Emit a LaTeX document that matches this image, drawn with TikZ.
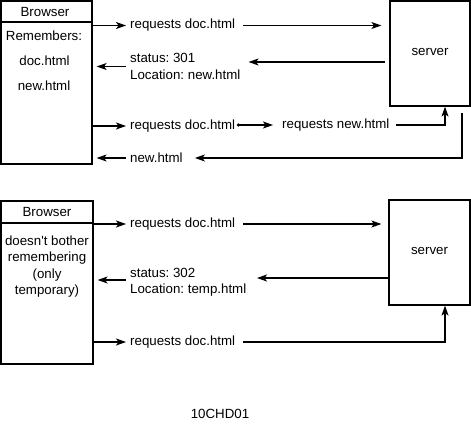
\documentclass[tikz,border=0pt]{standalone}
\usepackage{fontspec}
\setmainfont{Liberation Sans}
\usetikzlibrary{arrows.meta}

\begin{document}
\frenchspacing
\begin{tikzpicture}[x=1pt, y=-1pt, font=\fontsize{13.3}{16.3}\selectfont,
  box/.style={draw, line width=1.2pt, inner sep=0pt},
  msg/.style={anchor=west, inner sep=4pt, align=left},
  arr/.style={-{Stealth[length=10pt, width=7pt, inset=2.5pt]}, line width=1.2pt},
  wire/.style={line width=1.2pt}]
\useasboundingbox (0,0) rectangle (471,423);
% Browser 1
\node[box, minimum width=91pt, minimum height=163pt] (br1) at (46.5, 82.5) {};
\draw[wire] (br1.west |- 0,22) -- (br1.east |- 0,22);
\node (br1t) at (45, 11.5) {Browser};
\node (mem) at (44, 36) {Remembers:};
\node (memd) at (44.5, 61) {doc.html};
\node (memn) at (44, 86) {new.html};
% server 1
\node[box, minimum width=80pt, minimum height=105pt] (s1) at (430, 53.5) {};
\node (s1t) at (430, 52) {server};
% messages 1
\node[msg] (q1) at (126, 25.5) {requests doc.html};
\draw[arr] (br1.east |- q1) -- (q1.west);
\draw[arr, shorten <=4pt, shorten >=8pt] (q1.east) -- (s1.west |- q1);
\node[msg] (st1) at (126, 66.5) {status: 301\\Location: new.html};
\coordinate (r1) at (385, 62);
\draw[arr] (r1) -- ([xshift=4pt]st1.east |- r1);
\draw[arr, shorten >=4pt] (st1.west) -- (br1.east |- st1);
\node[msg] (q2) at (126, 126) {requests doc.html};
\draw[arr] (br1.east |- q2) -- (q2.west);
\coordinate (dot) at ([xshift=-1pt, yshift=1pt]q2.east);
\fill (dot) circle (1.8pt);
\node[msg] (n1) at (278, 125) {requests new.html};
\draw[arr, shorten >=5pt] (dot) -- (dot -| n1.west);
\draw[arr] ([xshift=2pt]n1.east) -| (s1.south -| 445,0);
\coordinate (r0) at (462, 113);
\node[msg] (nh) at (126, 158) {new.html};
\draw[arr] (r0) |- ([xshift=8pt]nh.east);
\draw[arr, shorten >=4pt] (nh.west) -- (br1.east |- nh);
% Browser 2
\node[box, minimum width=92pt, minimum height=163pt] (br2) at (47, 282.5) {};
\draw[wire] (br2.west |- 0,223) -- (br2.east |- 0,223);
\node (br2t) at (47, 212) {Browser};
\node[align=center] (forget) at (47, 266.5) {doesn\textquotesingle t bother\\remembering\\(only\\temporary)};
% server 2
\node[box, minimum width=81pt, minimum height=105pt] (s2) at (429.5, 252.5) {};
\node (s2t) at (429.5, 251) {server};
% messages 2
\node[msg] (q3) at (126, 224) {requests doc.html};
\draw[arr] (br2.east |- q3) -- (q3.west);
\draw[arr, shorten <=4pt, shorten >=7pt] (q3.east) -- (s2.west |- q3);
\node[msg] (st2) at (126, 282.5) {status: 302\\Location: temp.html};
\coordinate (r2) at (257, 278);
\draw[arr] (s2.west |- r2) -- (r2);
\draw[arr, shorten >=4pt] (st2.west |- 0,280) -- (br2.east |- 0,280);
\node[msg] (q4) at (126, 342) {requests doc.html};
\draw[arr] (br2.east |- q4) -- (q4.west);
\draw[arr, shorten <=4pt] (q4.east) -| (s2.south -| 445,0);
%caption
\node (cap) at (220, 414) {10CHD01};
\end{tikzpicture}
\end{document}
